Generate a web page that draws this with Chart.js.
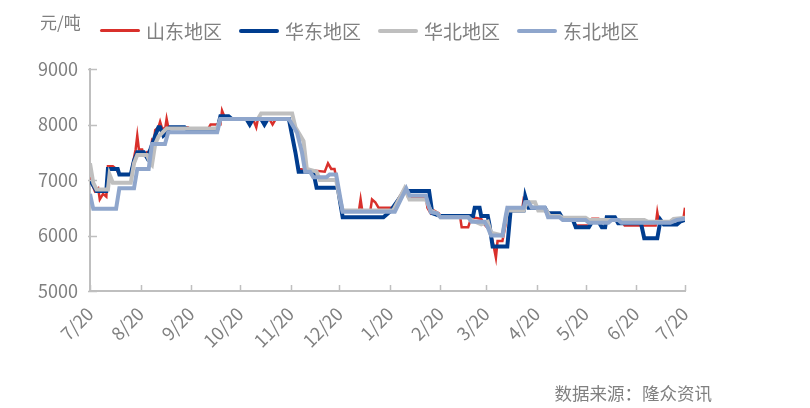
<!DOCTYPE html>
<html lang="zh">
<head>
<meta charset="UTF-8">
<title>价格走势</title>
<script src="https://cdn.jsdelivr.net/npm/chart.js"></script>
<style>
  body { margin: 0; background: #fff; font-family: "Noto Sans CJK SC", sans-serif; color: #808080; }
  .wrap { position: relative; width: 810px; height: 408px; }
  canvas { position: absolute; left: 0; top: 0; }
  .unit { position: absolute; left: 40px; top: 9px; font-size: 17px; }
  .legend { position: absolute; left: 100px; top: 17px; display: flex; }
  .item { display: flex; align-items: center; width: 139px; font-size: 19px; }
  .item span.ln { display: inline-block; width: 40px; margin-right: 6px; border-radius: 2px; }
  .source { position: absolute; right: 98px; top: 380px; font-size: 17.5px; }
</style>
</head>
<body>
<div class="wrap">
  <canvas id="grafico" width="810" height="408"></canvas>
  <div class="unit">元/吨</div>
  <div class="legend" id="leyenda"></div>
  <div class="source">数据来源：隆众资讯</div>
</div>
<script>
// eje x: días desde 7/20
const tickDays = [0, 31, 62, 92, 123, 153, 184, 215, 243, 274, 304, 335, 365];
const tickLabels = ["7/20", "8/20", "9/20", "10/20", "11/20", "12/20", "1/20", "2/20", "3/20", "4/20", "5/20", "6/20", "7/20"];

// [día, precio]
const shandong = [[0,7050],[1,6950],[3,6800],[5,6850],[6,6650],[8,6750],[10,6700],[11,7250],[14,7250],[16,7200],[18,7100],[25,7100],[27,7400],[28,7550],[29,7800],[30,7550],[32,7550],[33,7450],[35,7500],[37,7450],[38,7700],[39,7650],[40,7900],[42,7950],[43,8050],[44,7950],[46,7900],[47,8100],[48,7950],[60,7950],[62,7900],[72,7900],[74,8000],[80,8000],[81,8250],[83,8100],[100,8100],[102,7950],[103,8100],[110,8100],[112,8000],[114,8100],[122,8100],[124,7800],[126,7500],[128,7200],[144,7150],[146,7300],[148,7200],[150,7200],[152,6900],[155,6450],[165,6450],[166,6650],[167,6450],[172,6450],[173,6650],[175,6600],[177,6500],[186,6500],[193,6850],[195,6700],[206,6700],[207,6500],[209,6400],[211,6450],[214,6400],[215,6350],[227,6350],[228,6150],[232,6150],[234,6330],[240,6300],[242,6200],[245,6100],[247,5900],[249,5600],[250,5900],[253,5900],[255,6200],[256,6500],[259,6450],[265,6450],[266,6650],[268,6550],[270,6500],[278,6500],[280,6400],[288,6400],[290,6280],[296,6280],[298,6180],[306,6180],[308,6300],[312,6300],[314,6230],[318,6230],[320,6280],[326,6280],[328,6180],[347,6180],[348,6420],[349,6250],[356,6250],[362,6300],[364,6300],[365,6500]];
const huadong = [[0,7000],[2,6900],[4,6800],[10,6800],[11,7200],[17,7200],[18,7100],[25,7100],[27,7350],[29,7500],[33,7500],[35,7400],[37,7550],[40,7800],[42,7950],[43,7950],[45,7800],[47,7850],[49,7950],[58,7950],[60,7900],[78,7900],[80,8150],[85,8150],[87,8100],[96,8100],[98,8000],[100,8100],[105,8100],[107,8000],[109,8100],[122,8100],[124,7800],[126,7500],[128,7150],[137,7150],[139,6860],[152,6860],[155,6330],[180,6330],[184,6430],[193,6800],[208,6800],[210,6400],[215,6350],[235,6350],[236,6500],[239,6500],[240,6350],[244,6350],[245,6200],[247,5800],[256,5800],[258,6450],[266,6450],[267,6700],[269,6500],[279,6500],[281,6400],[288,6400],[290,6300],[296,6300],[298,6150],[306,6150],[308,6250],[312,6250],[314,6150],[316,6150],[317,6330],[322,6330],[324,6220],[338,6220],[340,5950],[348,5950],[350,6280],[352,6200],[360,6200],[362,6250],[365,6280]];
const huabei = [[0,7300],[2,6950],[4,6830],[11,6830],[12,7100],[14,6950],[25,6950],[27,7300],[29,7450],[35,7450],[37,7300],[38,7270],[40,7650],[42,7780],[47,7930],[78,7930],[80,8100],[103,8100],[105,8200],[124,8200],[126,7950],[129,7800],[131,7700],[133,7200],[139,7150],[141,7000],[151,7000],[153,6700],[155,6450],[186,6450],[193,6850],[196,6650],[206,6650],[209,6450],[213,6400],[215,6330],[232,6330],[234,6280],[240,6200],[244,6250],[246,6050],[253,6000],[255,6300],[256,6450],[266,6450],[268,6600],[273,6600],[275,6450],[280,6450],[282,6350],[288,6350],[290,6320],[304,6320],[306,6280],[340,6280],[342,6250],[356,6250],[358,6300],[365,6320]];
const dongbei = [[0,6750],[2,6480],[16,6480],[18,6850],[27,6850],[29,7200],[36,7200],[38,7650],[46,7650],[48,7860],[78,7860],[80,8100],[122,8100],[124,8000],[127,7850],[130,7500],[132,7150],[135,7150],[137,7050],[145,7050],[147,7100],[151,7100],[155,6430],[187,6430],[194,6850],[196,6720],[206,6720],[209,6420],[213,6400],[215,6330],[232,6330],[234,6250],[242,6250],[244,6150],[246,6000],[253,6000],[255,6350],[256,6500],[266,6500],[267,6600],[269,6600],[271,6500],[279,6500],[281,6330],[288,6330],[290,6280],[304,6280],[306,6230],[318,6230],[320,6280],[324,6280],[326,6230],[356,6230],[360,6280],[365,6300]];

const series = [
    { nombre: "山东地区", datos: shandong, color: "#d9302b", ancho: 2.5 },
    { nombre: "华东地区", datos: huadong, color: "#003d8f", ancho: 4 },
    { nombre: "华北地区", datos: huabei, color: "#bfbfbf", ancho: 4 },
    { nombre: "东北地区", datos: dongbei, color: "#8fa6cc", ancho: 4 }
];

// leyenda en html
let leyenda = document.getElementById("leyenda");
series.forEach(s => {
    leyenda.innerHTML += `<div class="item"><span class="ln" style="background:${s.color};height:${s.ancho > 3 ? 4 : 3}px"></span>${s.nombre}</div>`;
});

// marcas interiores de los ejes
const marcasInternas = {
    id: "marcasInternas",
    afterDraw(chart) {
        let ctx = chart.ctx, area = chart.chartArea;
        ctx.save();
        ctx.strokeStyle = "#bfbfbf";
        ctx.lineWidth = 1.5;
        chart.scales.x.ticks.forEach(t => {
            let x = Math.round(chart.scales.x.getPixelForValue(t.value)) + 0.5;
            ctx.beginPath(); ctx.moveTo(x, area.bottom); ctx.lineTo(x, area.bottom - 6); ctx.stroke();
        });
        chart.scales.y.ticks.forEach(t => {
            let y = Math.round(chart.scales.y.getPixelForValue(t.value)) + 0.5;
            ctx.beginPath(); ctx.moveTo(area.left - 2, y); ctx.lineTo(area.left + 7, y); ctx.stroke();
        });
        ctx.restore();
    }
};

let ctx = document.getElementById("grafico").getContext("2d");
new Chart(ctx, {
    type: "line",
    data: {
        datasets: series.map((s, i) => ({
            label: s.nombre,
            data: s.datos.map(p => ({ x: p[0], y: p[1] })),
            borderColor: s.color,
            backgroundColor: s.color,
            borderWidth: s.ancho,
            pointRadius: 0,
            tension: 0,
            fill: false,
            order: series.length - i
        }))
    },
    options: {
        responsive: false,
        animation: false,
        layout: { padding: { top: 69, right: 125, left: 0, bottom: 0 } },
        plugins: { legend: { display: false }, tooltip: { enabled: false } },
        scales: {
            x: {
                type: "linear",
                min: 0,
                max: 365,
                afterBuildTicks: scale => { scale.ticks = tickDays.map(v => ({ value: v })); },
                afterFit: scale => { scale.height = 117; },
                grid: { display: true, drawOnChartArea: false, drawTicks: false },
                border: { display: true, color: "#bfbfbf", width: 2 },
                ticks: {
                    autoSkip: false,
                    maxRotation: 45,
                    minRotation: 45,
                    padding: 12,
                    color: "#808080",
                    font: { family: "Noto Sans CJK SC", size: 18 },
                    callback: (v, i) => tickLabels[i]
                }
            },
            y: {
                min: 5000,
                max: 9000,
                afterFit: scale => { scale.width = 90; },
                grid: { display: true, drawOnChartArea: false, drawTicks: false },
                border: { display: true, color: "#bfbfbf", width: 2 },
                ticks: {
                    stepSize: 1000,
                    padding: 12,
                    color: "#808080",
                    font: { family: "Noto Sans CJK SC", size: 18 },
                    callback: v => String(v)
                }
            }
        }
    },
    plugins: [marcasInternas]
});
</script>
</body>
</html>
